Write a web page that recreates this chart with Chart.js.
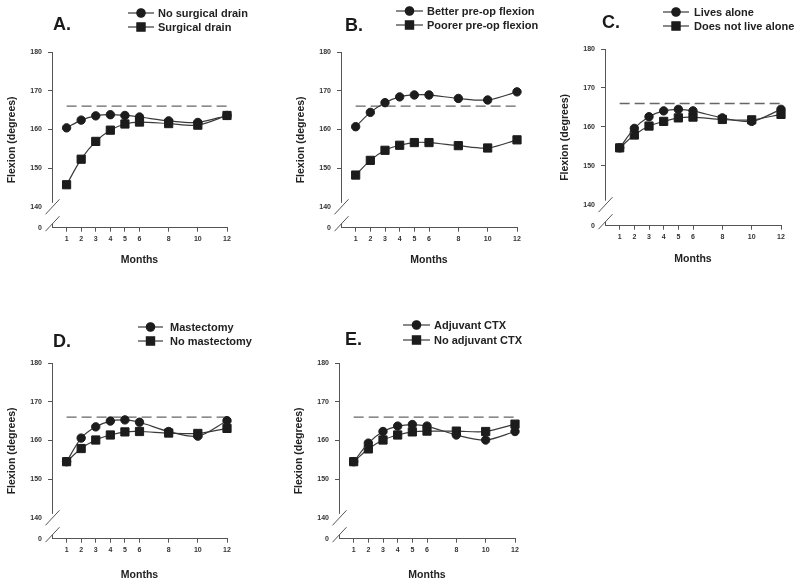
<!DOCTYPE html>
<html>
<head>
<meta charset="utf-8">
<title>Flexion over time</title>
<script src="https://cdn.jsdelivr.net/npm/chart.js@4.4.1/dist/chart.umd.min.js"></script>
<style>
  html, body { margin: 0; padding: 0; background: #fff; }
  #wrap { position: relative; width: 800px; height: 586px; overflow: hidden; }
  #wrap canvas { position: absolute; }
</style>
</head>
<body>
<div id="wrap">
  <canvas id="panel-a"></canvas>
  <canvas id="panel-b"></canvas>
  <canvas id="panel-c"></canvas>
  <canvas id="panel-d"></canvas>
  <canvas id="panel-e"></canvas>
</div>
<script>
// data
const months = [1, 2, 3, 4, 5, 6, 8, 10, 12];
const monthTicks = [1, 2, 3, 4, 5, 6, 8, 10, 12];
const flexionTicks = [140, 150, 160, 170, 180];
const referenceFlexion = 166;
const referenceMonths = [1, 12];

const noDrain = [160.4, 162.4, 163.5, 163.8, 163.6, 163.2, 162.2, 161.8, 163.6];
const withDrain = [145.7, 152.3, 156.9, 159.8, 161.4, 161.9, 161.5, 161.1, 163.6];

const betterPreop = [160.7, 164.4, 166.9, 168.4, 168.9, 168.9, 168.0, 167.6, 169.7];
const poorerPreop = [148.2, 152.0, 154.6, 155.9, 156.6, 156.6, 155.8, 155.2, 157.3];

const livesAlone = [154.6, 159.6, 162.6, 164.1, 164.5, 164.1, 162.3, 161.4, 164.5];
const notAlone = [154.6, 157.9, 160.2, 161.4, 162.3, 162.5, 161.9, 161.8, 163.2];

const mastectomy = [154.5, 160.6, 163.5, 165.0, 165.3, 164.7, 162.3, 161.1, 165.1];
const noMastectomy = [154.5, 157.9, 160.1, 161.4, 162.2, 162.3, 161.9, 161.8, 163.1];

const adjuvantCtx = [154.5, 159.3, 162.3, 163.7, 164.1, 163.7, 161.4, 160.1, 162.3];
const noAdjuvantCtx = [154.5, 157.8, 160.1, 161.4, 162.2, 162.4, 162.4, 162.3, 164.2];

const panels = [
  { id: 'panel-a', letter: 'A.', labels: ['No surgical drain', 'Surgical drain'], series: [noDrain, withDrain] },
  { id: 'panel-b', letter: 'B.', labels: ['Better pre-op flexion', 'Poorer pre-op flexion'], series: [betterPreop, poorerPreop] },
  { id: 'panel-c', letter: 'C.', labels: ['Lives alone', 'Does not live alone'], series: [livesAlone, notAlone] },
  { id: 'panel-d', letter: 'D.', labels: ['Mastectomy', 'No mastectomy'], series: [mastectomy, noMastectomy] },
  { id: 'panel-e', letter: 'E.', labels: ['Adjuvant CTX', 'No adjuvant CTX'], series: [adjuvantCtx, noAdjuvantCtx] },
];

// page positions (pixels) for each panel
const boxes = [
  { left: 0,   top: 0,   width: 262, chartRight: 227, y180: 52,  y0: 228, gap: 32, letter: [53, 25],  legendRows: [13, 27],  legendLine: [128, 154], legendText: 158 },
  { left: 289, top: 0,   width: 255, chartRight: 517, y180: 52,  y0: 228, gap: 32, letter: [345, 26], legendRows: [11, 25],  legendLine: [396, 423], legendText: 427 },
  { left: 553, top: 0,   width: 247, chartRight: 781, y180: 49,  y0: 226, gap: 33, letter: [602, 23], legendRows: [12, 26],  legendLine: [663, 689], legendText: 694 },
  { left: 0,   top: 290, width: 262, chartRight: 227, y180: 363, y0: 539, gap: 36, letter: [53, 342], legendRows: [327, 341], legendLine: [138, 163], legendText: 170 },
  { left: 287, top: 290, width: 255, chartRight: 515, y180: 363, y0: 539, gap: 36, letter: [345, 340], legendRows: [325, 340], legendLine: [403, 430], legendText: 434 },
];

const FONT = "'Liberation Sans', Arial, sans-serif";
const AXIS_COLOR = '#555';
const LINE_COLOR = '#3a3a3a';
const MARK_COLOR = '#1c1c1c';
const Y_BOTTOM = 134.6; // value drawn at the "0" tick below the break
const TITLE_SIZE = 10.5;

const decorPlugin = {
  id: 'decor',
  afterDraw(chart, args, opts) {
    const { ctx } = chart;
    const y = chart.scales.y;
    const ax = Math.round(chart.chartArea.left) + 0.5;
    const yTop = y.getPixelForValue(180);
    const y140 = y.getPixelForValue(140);
    const y0 = y.getPixelForValue(Y_BOTTOM);

    ctx.save();
    ctx.strokeStyle = AXIS_COLOR;
    ctx.lineWidth = 1;
    ctx.beginPath();
    ctx.moveTo(ax, yTop);
    ctx.lineTo(ax, y140 - 4);
    ctx.moveTo(ax - 7, y140 + 7.5);
    ctx.lineTo(ax + 7, y140 - 7.5);
    ctx.moveTo(ax - 7, y0 + 3.5);
    ctx.lineTo(ax + 7, y0 - 11.5);
    ctx.moveTo(ax, y0 - 4);
    ctx.lineTo(ax, y0);
    ctx.stroke();

    // panel letter
    const box = opts.box;
    ctx.fillStyle = '#1a1a1a';
    ctx.font = `bold 18px ${FONT}`;
    ctx.textBaseline = 'middle';
    ctx.textAlign = 'left';
    ctx.fillText(opts.letter, box.letter[0] - box.left, box.letter[1] - box.top);

    // legend
    ctx.font = `bold 11px ${FONT}`;
    chart.data.datasets.forEach((ds, i) => {
      if (ds.isReference) return;
      const rowY = box.legendRows[i] - box.top;
      const x0 = box.legendLine[0] - box.left;
      const x1 = box.legendLine[1] - box.left;
      ctx.strokeStyle = LINE_COLOR;
      ctx.lineWidth = 1.2;
      ctx.beginPath();
      ctx.moveTo(x0, rowY);
      ctx.lineTo(x1, rowY);
      ctx.stroke();
      ctx.fillStyle = MARK_COLOR;
      ctx.strokeStyle = MARK_COLOR;
      Chart.helpers.drawPoint(ctx, { pointStyle: ds.pointStyle, radius: ds.pointRadius, borderWidth: 1, rotation: 0 }, (x0 + x1) / 2, rowY);
      ctx.fillStyle = '#222';
      ctx.fillText(ds.label, box.legendText - box.left, rowY + 0.5);
    });
    ctx.restore();
  },
};

function seriesPoints(values) {
  return months.map((m, i) => ({ x: m, y: values[i] }));
}

function buildPanel(panel, box) {
  const canvas = document.getElementById(panel.id);
  const xHeight = box.gap + TITLE_SIZE * 1.2 / 2 + 4;
  const height = Math.round(box.y0 - box.top + xHeight);
  canvas.style.left = box.left + 'px';
  canvas.style.top = box.top + 'px';
  canvas.style.width = box.width + 'px';
  canvas.style.height = height + 'px';
  canvas.width = box.width;
  canvas.height = height;

  const pointStyles = ['circle', 'rect'];
  const radii = [4.2, 5.8];
  const datasets = panel.series.map((values, i) => ({
    label: panel.labels[i],
    data: seriesPoints(values),
    borderColor: LINE_COLOR,
    borderWidth: 1.2,
    backgroundColor: MARK_COLOR,
    pointBackgroundColor: MARK_COLOR,
    pointBorderColor: MARK_COLOR,
    pointBorderWidth: 1,
    pointStyle: pointStyles[i],
    pointRadius: radii[i],
    tension: 0.3,
    clip: false,
  }));
  datasets.push({
    label: 'reference',
    isReference: true,
    data: referenceMonths.map((m) => ({ x: m, y: referenceFlexion })),
    borderColor: '#666',
    borderWidth: 1.3,
    borderDash: [10, 5],
    pointRadius: 0,
    tension: 0,
  });

  return new Chart(canvas, {
    type: 'line',
    data: { datasets },
    plugins: [decorPlugin],
    options: {
      responsive: false,
      animation: false,
      events: [],
      layout: {
        padding: {
          left: 0,
          top: box.y180 - box.top,
          right: box.left + box.width - box.chartRight,
          bottom: 0,
        },
      },
      plugins: {
        legend: { display: false },
        tooltip: { enabled: false },
        decor: { box, letter: panel.letter },
      },
      scales: {
        x: {
          type: 'linear',
          min: 0,
          max: 12,
          afterBuildTicks: (scale) => { scale.ticks = monthTicks.map((v) => ({ value: v })); },
          afterFit: (scale) => { scale.height = xHeight; },
          grid: { drawOnChartArea: false, drawTicks: true, tickLength: 4, tickColor: AXIS_COLOR },
          border: { display: true, color: AXIS_COLOR, width: 1 },
          ticks: { color: '#333', font: { family: FONT, size: 7, weight: 'bold' }, padding: 3, maxRotation: 0, autoSkip: false },
          title: { display: true, text: 'Months', color: '#222', font: { family: FONT, size: TITLE_SIZE, weight: 'bold' }, padding: { top: 0, bottom: 4 } },
        },
        y: {
          type: 'linear',
          min: Y_BOTTOM,
          max: 180,
          afterBuildTicks: (scale) => {
            scale.ticks = [{ value: Y_BOTTOM }].concat(flexionTicks.map((v) => ({ value: v })));
          },
          afterFit: (scale) => { scale.width = 52; },
          grid: {
            drawOnChartArea: false,
            drawTicks: true,
            tickLength: 4,
            tickColor: (c) => (c.tick && c.tick.value >= 150 ? AXIS_COLOR : 'rgba(0,0,0,0)'),
          },
          border: { display: false },
          ticks: {
            color: '#333',
            font: { family: FONT, size: 7, weight: 'bold' },
            padding: 6,
            autoSkip: false,
            callback: (v) => (v < 139 ? '0' : String(v)),
          },
          title: { display: true, text: 'Flexion (degrees)', color: '#222', font: { family: FONT, size: TITLE_SIZE, weight: 'bold' }, padding: { top: 6, bottom: 0 } },
        },
      },
    },
  });
}

panels.forEach((panel, i) => buildPanel(panel, boxes[i]));
</script>
</body>
</html>
